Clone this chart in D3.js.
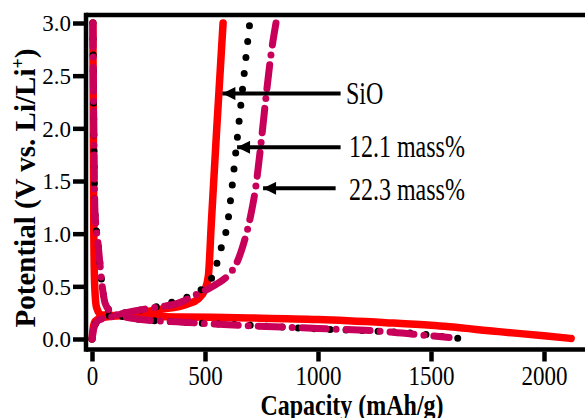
<!DOCTYPE html>
<html>
<head>
<meta charset="utf-8">
<script src="https://cdn.jsdelivr.net/npm/d3@7"></script>
<style>
  body { margin: 0; background: #fff; }
  svg { display: block; }
  text { font-family: "Liberation Serif", "Times New Roman", serif; fill: #000; }
</style>
</head>
<body>
<svg id="chart" width="585" height="418"></svg>
<script>
// [capacity mAh/g, potential V]
const sioDischarge = [[4,3.0],[6,2.0],[8,1.0],[12,0.5],[20,0.3],[40,0.23],[150,0.22],[400,0.21],[700,0.2],[1000,0.185],[1300,0.155],[1500,0.13],[1800,0.07],[2000,0.03],[2120,0.005]];
const sioCharge = [[0,0],[5,0.1],[15,0.17],[40,0.2],[150,0.23],[300,0.28],[420,0.33],[470,0.38],[500,0.47],[515,0.6],[528,1.1],[552,2.0],[580,3.0]];

const mass12Discharge = [[4,3.0],[8,2.0],[13,1.22],[27,0.9],[49,0.44],[58,0.34],[90,0.25],[200,0.19],[400,0.16],[700,0.13],[1000,0.095],[1300,0.07],[1450,0.05],[1580,0.015],[1650,0.0]];
const mass12Charge = [[0,0],[8,0.1],[25,0.17],[60,0.21],[150,0.25],[250,0.29],[340,0.34],[460,0.44],[520,0.54],[550,0.7],[571,0.86],[600,1.1],[620,1.45],[640,1.85],[660,2.25],[680,2.65],[698,3.0]];

const mass22Discharge = [[4,3.0],[8,2.0],[13,1.22],[27,0.9],[49,0.44],[58,0.34],[90,0.25],[200,0.19],[400,0.16],[700,0.125],[1000,0.1],[1300,0.07],[1450,0.04],[1580,0.015]];
const mass22Charge = [[0,0],[8,0.1],[30,0.18],[84,0.21],[150,0.25],[250,0.29],[394,0.35],[450,0.41],[500,0.46],[550,0.52],[600,0.6],[640,0.72],[670,0.9],[700,1.15],[725,1.45],[748,1.86],[770,2.3],[792,2.7],[814,3.0]];

const xTicks = [0, 500, 1000, 1500, 2000];
const yTicks = [0.0, 0.5, 1.0, 1.5, 2.0, 2.5, 3.0];

// label, arrow tip [cap, V], arrow tail [cap, V]
const annotations = [
    { label: "SiO",        tip: [577, 2.33], tail: [1100, 2.33] },
    { label: "12.1 mass%", tip: [642, 1.82], tail: [1100, 1.82] },
    { label: "22.3 mass%", tip: [757, 1.43], tail: [1078, 1.43] },
];

const svg = d3.select("#chart");

const x = d3.scaleLinear().domain([0, 2000]).range([92, 544]);
const y = d3.scaleLinear().domain([0, 3]).range([339, 23]);

const frameLeft = 86, frameTop = 15, frameBottom = 349.5;

// series: red solid, black dotted, magenta dash-dot
const series = [
    { data: [sioDischarge, sioCharge], color: "#ff0000", width: 7.5, dash: null },
    { data: [mass12Discharge, mass12Charge], color: "#000000", width: 7, dash: "0 16" },
    { data: [mass22Discharge, mass22Charge], color: "#c8005a", width: 7, dash: "24 10 0 10" },
];

const line = d3.line()
    .x(d => x(d[0]))
    .y(d => y(d[1]))
    .curve(d3.curveMonotoneX);

series.forEach(s => {
    s.data.forEach(curve => {
        svg.append("path")
            .attr("d", line(curve))
            .attr("fill", "none")
            .attr("stroke", s.color)
            .attr("stroke-width", s.width)
            .attr("stroke-linecap", "round")
            .attr("stroke-linejoin", "round")
            .attr("stroke-dasharray", s.dash);
    });
});

// frame lines
svg.append("line")
    .attr("x1", frameLeft).attr("x2", 590)
    .attr("y1", frameTop).attr("y2", frameTop)
    .attr("stroke", "#000").attr("stroke-width", 4.5);
svg.append("line")
    .attr("x1", frameLeft).attr("x2", 590)
    .attr("y1", frameBottom).attr("y2", frameBottom)
    .attr("stroke", "#000").attr("stroke-width", 4.5);
svg.append("line")
    .attr("x1", frameLeft).attr("x2", frameLeft)
    .attr("y1", frameTop - 2.25).attr("y2", frameBottom + 2.25)
    .attr("stroke", "#000").attr("stroke-width", 4.5);

// y axis
const yAxis = svg.append("g")
    .attr("transform", `translate(${frameLeft},0)`)
    .call(d3.axisLeft(y).tickValues(yTicks).tickFormat(d3.format(".1f")).tickSize(13).tickPadding(2));
yAxis.select(".domain").remove();
yAxis.selectAll(".tick line").attr("stroke", "#000").attr("stroke-width", 4.5);
yAxis.selectAll(".tick text")
    .attr("font-size", 23)
    .attr("font-family", "Liberation Serif")
    .attr("fill", "#000")
    .attr("dy", "0.34em");

// x axis
const xAxis = svg.append("g")
    .attr("transform", `translate(0,${frameBottom})`)
    .call(d3.axisBottom(x).tickValues(xTicks).tickFormat(d3.format("d")).tickSize(12));
xAxis.select(".domain").remove();
xAxis.selectAll(".tick line").attr("stroke", "#000").attr("stroke-width", 4.5).attr("y1", 2);
xAxis.selectAll(".tick text")
    .attr("font-size", 23)
    .attr("font-family", "Liberation Serif")
    .attr("fill", "#000")
    .attr("dy", null)
    .attr("y", 35.5 / 1.22)
    .attr("transform", "scale(1,1.22)");

// axis titles
svg.append("text")
    .attr("transform", "translate(352,415) scale(1,1.26)")
    .attr("text-anchor", "middle")
    .attr("font-size", 24)
    .attr("font-weight", "bold")
    .text("Capacity (mAh/g)");

const yTitle = svg.append("text")
    .attr("transform", "translate(35,188) rotate(-90)")
    .attr("text-anchor", "middle")
    .attr("font-size", 29)
    .attr("font-weight", "bold");
yTitle.append("tspan").text("Potential (V vs. Li/Li");
yTitle.append("tspan").attr("font-size", 18).attr("dy", -11).text("+");
yTitle.append("tspan").attr("dy", 11).text(")");

// arrows and labels
svg.append("defs").append("marker")
    .attr("id", "head")
    .attr("viewBox", "0 0 10 10")
    .attr("refX", 10).attr("refY", 5)
    .attr("markerUnits", "userSpaceOnUse")
    .attr("markerWidth", 16).attr("markerHeight", 13)
    .attr("orient", "auto")
    .append("path")
    .attr("d", "M0,0 L10,5 L0,10 Z")
    .attr("fill", "#000");

annotations.forEach((a, i) => {
    svg.append("line")
        .attr("x1", x(a.tail[0])).attr("y1", y(a.tail[1]))
        .attr("x2", x(a.tip[0])).attr("y2", y(a.tip[1]))
        .attr("stroke", "#000")
        .attr("stroke-width", 4)
        .attr("marker-end", "url(#head)");
    const tx = i === 0 ? 346 : 349;
    svg.append("text")
        .attr("transform", `translate(${tx},${y(a.tip[1]) + (i === 2 ? 12 : 10)}) scale(1,1.28)`)
        .attr("font-size", 24)
        .text(a.label);
});
</script>
</body>
</html>
